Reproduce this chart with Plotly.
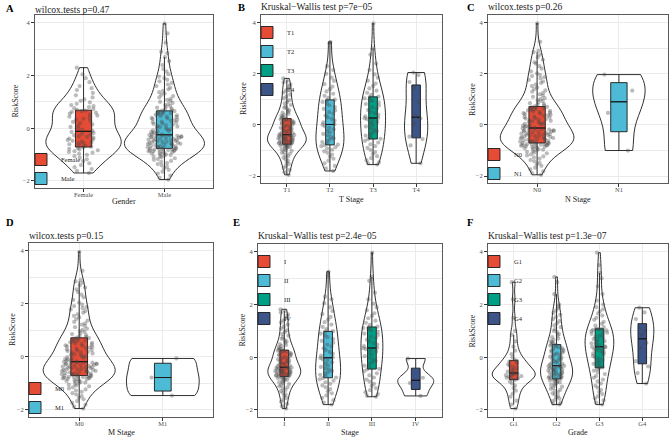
import numpy as np
import plotly.graph_objects as go

W, H = 670, 438
FONT = "Liberation Serif"
NPG = ["#E64B35", "#4DBBD5", "#00A087", "#3C5488"]

# ------------------------------------------------------------------ data
gender_categories = ["Female", "Male"]
gender_female = [
    -1.70, -1.62, -1.55, -1.48, -1.40, -1.33, -1.25, -1.18, -1.12, -1.06, -1.01, -0.97, -0.93, -0.90, -0.87, -0.84, -0.81, -0.78, -0.76, -0.73,
    -0.70, -0.67, -0.64, -0.61, -0.58, -0.56, -0.53, -0.50, -0.48, -0.45, -0.42, -0.39, -0.36, -0.33, -0.30, -0.27, -0.24, -0.21, -0.18, -0.14,
    -0.10, -0.05, 0.00, 0.05, 0.10, 0.15, 0.20, 0.24, 0.28, 0.32, 0.36, 0.40, 0.44, 0.48, 0.52, 0.56, 0.59, 0.62, 0.65, 0.67,
    0.70, 0.73, 0.76, 0.80, 0.84, 0.88, 0.93, 0.98, 1.04, 1.10, 1.17, 1.25, 1.34, 1.45, 1.52, 1.60, 1.75, 1.90, 2.05, 2.30,
]
gender_male = [
    -1.95, -1.88, -1.80, -1.72, -1.65, -1.58, -1.52, -1.46, -1.41, -1.36, -1.32, -1.28, -1.24, -1.20, -1.17, -1.14, -1.11, -1.08, -1.06, -1.04,
    -1.02, -1.00, -0.98, -0.96, -0.94, -0.92, -0.91, -0.90, -0.88, -0.87, -0.86, -0.85, -0.84, -0.83, -0.82, -0.81, -0.80, -0.79, -0.78, -0.77,
    -0.76, -0.75, -0.73, -0.72, -0.71, -0.69, -0.68, -0.67, -0.65, -0.64, -0.63, -0.61, -0.60, -0.59, -0.57, -0.56, -0.55, -0.53, -0.52, -0.51,
    -0.49, -0.48, -0.47, -0.45, -0.44, -0.43, -0.41, -0.40, -0.39, -0.37, -0.36, -0.35, -0.33, -0.32, -0.31, -0.30, -0.29, -0.28, -0.27, -0.26,
    -0.24, -0.22, -0.19, -0.17, -0.15, -0.12, -0.10, -0.08, -0.05, -0.03, 0.00, 0.02, 0.04, 0.07, 0.09, 0.11, 0.14, 0.16, 0.18, 0.21,
    0.23, 0.25, 0.28, 0.30, 0.32, 0.35, 0.37, 0.39, 0.42, 0.44, 0.46, 0.49, 0.51, 0.53, 0.55, 0.57, 0.59, 0.61, 0.63, 0.65,
    0.67, 0.69, 0.72, 0.75, 0.78, 0.81, 0.84, 0.88, 0.92, 0.96, 1.00, 1.04, 1.08, 1.12, 1.17, 1.22, 1.27, 1.32, 1.37, 1.42,
    1.48, 1.54, 1.60, 1.66, 1.72, 1.78, 1.84, 1.90, 1.96, 2.05, 2.15, 2.25, 2.40, 2.55, 2.70, 2.85, 2.90, 3.25, 3.60, 3.97,
]

t_stage_categories = ["T1", "T2", "T3", "T4"]
t_stage_t1 = [
    -1.95, -1.85, -1.76, -1.68, -1.60, -1.53, -1.46, -1.40, -1.34, -1.28, -1.23, -1.18, -1.13, -1.09, -1.05, -1.01, -0.98, -0.95, -0.92, -0.89, -0.87, -0.85, -0.83, -0.81, -0.79, -0.77, -0.76,
    -0.75, -0.74, -0.72, -0.71, -0.69, -0.68, -0.66, -0.65, -0.64, -0.62, -0.61, -0.59, -0.58, -0.56, -0.55, -0.53, -0.52, -0.50, -0.49, -0.48, -0.46, -0.45, -0.44, -0.42, -0.41, -0.40, -0.39,
    -0.37, -0.35, -0.32, -0.30, -0.28, -0.25, -0.23, -0.21, -0.18, -0.16, -0.13, -0.11, -0.09, -0.06, -0.04, -0.01, 0.02, 0.04, 0.07, 0.09, 0.12, 0.14, 0.16, 0.18, 0.20, 0.22, 0.24,
    0.26, 0.29, 0.32, 0.36, 0.40, 0.44, 0.48, 0.52, 0.57, 0.62, 0.67, 0.72, 0.78, 0.84, 0.90, 0.97, 1.04, 1.11, 1.19, 1.27, 1.35, 1.43, 1.51, 1.59, 1.67, 1.75, 1.82,
]
t_stage_t2 = [
    -1.80, -1.70, -1.60, -1.50, -1.40, -1.32, -1.24, -1.16, -1.09, -1.03, -0.97, -0.92, -0.87, -0.83, -0.79,
    -0.77, -0.72, -0.67, -0.62, -0.57, -0.52, -0.47, -0.41, -0.35, -0.29, -0.23, -0.17, -0.11, -0.05, 0.01,
    0.03, 0.10, 0.17, 0.24, 0.30, 0.37, 0.44, 0.50, 0.57, 0.63, 0.70, 0.77, 0.84, 0.90, 0.97,
    0.99, 1.06, 1.14, 1.22, 1.31, 1.40, 1.50, 1.60, 1.72, 1.85, 2.00, 2.15, 2.30, 3.20, 3.25,
]
t_stage_t3 = [
    -1.55, -1.50, -1.45, -1.38, -1.30, -1.22, -1.14, -1.06, -0.98, -0.90, -0.83, -0.76, -0.69, -0.62, -0.56,
    -0.54, -0.48, -0.42, -0.36, -0.30, -0.24, -0.18, -0.12, -0.06, 0.00, 0.06, 0.12, 0.17, 0.22, 0.26,
    0.28, 0.34, 0.40, 0.46, 0.52, 0.58, 0.64, 0.70, 0.76, 0.82, 0.88, 0.94, 0.99, 1.04, 1.09,
    1.11, 1.18, 1.26, 1.34, 1.43, 1.52, 1.62, 1.73, 1.85, 1.98, 2.15, 2.40, 2.75, 3.00, 3.97,
]
t_stage_t4 = [-1.50, -0.80, -0.55, -0.46, 0.05, 0.25, 0.35, 0.90, 1.45, 1.68, 1.95, 2.05]

n_stage_categories = ["N0", "N1"]
n_stage_n0 = [
    -1.95, -1.88, -1.81, -1.74, -1.67, -1.60, -1.54, -1.48, -1.42, -1.37, -1.32, -1.27, -1.23, -1.19, -1.15, -1.11, -1.08, -1.05, -1.02, -0.99,
    -0.97, -0.95, -0.93, -0.91, -0.89, -0.87, -0.85, -0.84, -0.83, -0.81, -0.80, -0.79, -0.78, -0.77, -0.76, -0.75, -0.74, -0.73, -0.72, -0.71,
    -0.70, -0.68, -0.67, -0.65, -0.64, -0.62, -0.61, -0.60, -0.58, -0.57, -0.55, -0.54, -0.52, -0.51, -0.49, -0.48, -0.47, -0.45, -0.44, -0.42,
    -0.41, -0.39, -0.38, -0.36, -0.35, -0.34, -0.32, -0.31, -0.29, -0.28, -0.26, -0.25, -0.23, -0.22, -0.21, -0.19, -0.18, -0.16, -0.15, -0.13,
    -0.11, -0.09, -0.07, -0.05, -0.03, -0.01, 0.02, 0.04, 0.06, 0.08, 0.10, 0.12, 0.14, 0.16, 0.19, 0.21, 0.23, 0.25, 0.27, 0.29,
    0.31, 0.33, 0.36, 0.38, 0.40, 0.42, 0.44, 0.46, 0.48, 0.50, 0.53, 0.55, 0.57, 0.59, 0.61, 0.63, 0.65, 0.67, 0.69, 0.71,
    0.73, 0.76, 0.79, 0.82, 0.85, 0.89, 0.93, 0.97, 1.01, 1.05, 1.10, 1.15, 1.20, 1.25, 1.30, 1.35, 1.40, 1.46, 1.52, 1.58,
    1.64, 1.70, 1.76, 1.82, 1.87, 1.91, 1.96, 2.02, 2.10, 2.20, 2.30, 2.40, 2.45, 2.55, 2.65, 2.75, 2.85, 2.90, 3.25, 3.97,
]
n_stage_n1 = [-1.00, 0.47, 1.34, 1.97]

m_stage_categories = ["M0", "M1"]
m_stage_m0 = [
    -1.95, -1.88, -1.81, -1.74, -1.67, -1.60, -1.54, -1.48, -1.42, -1.37, -1.32, -1.27, -1.23, -1.19, -1.15, -1.11, -1.08, -1.05, -1.02, -0.99,
    -0.97, -0.95, -0.93, -0.91, -0.89, -0.87, -0.85, -0.84, -0.83, -0.81, -0.80, -0.79, -0.78, -0.77, -0.76, -0.75, -0.74, -0.73, -0.72, -0.71,
    -0.70, -0.69, -0.67, -0.66, -0.65, -0.63, -0.62, -0.61, -0.59, -0.58, -0.57, -0.55, -0.54, -0.53, -0.51, -0.50, -0.49, -0.47, -0.46, -0.45,
    -0.43, -0.42, -0.41, -0.39, -0.38, -0.37, -0.35, -0.34, -0.33, -0.31, -0.30, -0.29, -0.27, -0.26, -0.25, -0.23, -0.22, -0.21, -0.20, -0.19,
    -0.17, -0.15, -0.13, -0.10, -0.08, -0.06, -0.03, -0.01, 0.01, 0.03, 0.06, 0.08, 0.10, 0.13, 0.15, 0.17, 0.19, 0.22, 0.24, 0.26,
    0.28, 0.31, 0.33, 0.35, 0.37, 0.40, 0.42, 0.44, 0.46, 0.49, 0.51, 0.53, 0.55, 0.58, 0.60, 0.62, 0.64, 0.67, 0.69, 0.71,
    0.73, 0.76, 0.79, 0.82, 0.86, 0.90, 0.94, 0.98, 1.02, 1.07, 1.12, 1.17, 1.22, 1.27, 1.32, 1.37, 1.43, 1.49, 1.55, 1.61,
    1.67, 1.73, 1.79, 1.84, 1.88, 1.92, 1.97, 2.05, 2.15, 2.25, 2.35, 2.45, 2.55, 2.62, 2.70, 2.80, 2.85, 2.90, 3.25, 3.97,
]
m_stage_m1 = [-1.46, -0.78, -0.06]

stage_categories = ["I", "II", "III", "IV"]
stage_i = [
    -1.95, -1.86, -1.77, -1.69, -1.61, -1.54, -1.47, -1.41, -1.35, -1.29, -1.24, -1.19, -1.14, -1.10, -1.06, -1.02, -0.98, -0.95, -0.92, -0.89, -0.86, -0.84, -0.82, -0.80, -0.78, -0.76, -0.74,
    -0.73, -0.72, -0.70, -0.69, -0.68, -0.66, -0.65, -0.64, -0.62, -0.61, -0.60, -0.58, -0.57, -0.56, -0.54, -0.53, -0.52, -0.50, -0.49, -0.48, -0.46, -0.45, -0.44, -0.42, -0.41, -0.40, -0.39,
    -0.37, -0.34, -0.32, -0.29, -0.27, -0.24, -0.22, -0.19, -0.17, -0.14, -0.12, -0.09, -0.07, -0.04, -0.02, 0.01, 0.04, 0.06, 0.09, 0.11, 0.14, 0.16, 0.18, 0.21, 0.23, 0.25, 0.26,
    0.28, 0.31, 0.34, 0.38, 0.42, 0.46, 0.50, 0.55, 0.60, 0.65, 0.70, 0.76, 0.82, 0.88, 0.95, 1.02, 1.09, 1.16, 1.24, 1.32, 1.40, 1.48, 1.56, 1.63, 1.70, 1.76, 1.82,
]
stage_ii = [
    -1.80, -1.72, -1.63, -1.54, -1.45, -1.37, -1.29, -1.21, -1.14, -1.07, -1.01, -0.95, -0.89, -0.84, -0.79,
    -0.77, -0.72, -0.67, -0.62, -0.57, -0.52, -0.47, -0.42, -0.37, -0.31, -0.25, -0.19, -0.13, -0.08, -0.03,
    -0.01, 0.06, 0.13, 0.20, 0.27, 0.34, 0.41, 0.48, 0.55, 0.62, 0.69, 0.76, 0.83, 0.90, 0.97,
    0.99, 1.07, 1.15, 1.24, 1.33, 1.43, 1.53, 1.64, 1.76, 1.90, 2.05, 2.20, 2.30, 3.10, 3.25,
]
stage_iii = [
    -1.50, -1.46, -1.40, -1.33, -1.25, -1.17, -1.09, -1.01, -0.93, -0.85, -0.77, -0.69, -0.61, -0.53, -0.46,
    -0.44, -0.38, -0.32, -0.26, -0.20, -0.14, -0.08, -0.02, 0.04, 0.10, 0.16, 0.22, 0.27, 0.31, 0.34,
    0.36, 0.42, 0.48, 0.54, 0.60, 0.66, 0.72, 0.78, 0.84, 0.90, 0.96, 1.02, 1.07, 1.11, 1.14,
    1.16, 1.23, 1.31, 1.39, 1.48, 1.57, 1.67, 1.78, 1.90, 2.03, 2.20, 2.45, 2.90, 3.05, 3.97,
]
stage_iv = [-1.47, -0.98, -0.78, -0.05]

grade_categories = ["G1", "G2", "G3", "G4"]
grade_g1 = [
    -1.95, -1.80, -1.65, -1.50, -1.38, -1.27, -1.17, -1.08, -1.00, -0.93, -0.86,
    -0.84, -0.81, -0.78, -0.75, -0.72, -0.70, -0.68, -0.66, -0.64, -0.62, -0.61,
    -0.59, -0.55, -0.51, -0.47, -0.42, -0.37, -0.32, -0.27, -0.22, -0.17, -0.13,
    -0.11, 0.00, 0.12, 0.25, 0.40, 0.60, 0.85, 1.00, 1.50, 2.20, 2.85,
]
grade_g2 = [
    -1.80, -1.76, -1.72, -1.67, -1.62, -1.57, -1.52, -1.47, -1.42, -1.37, -1.32, -1.28, -1.24, -1.20, -1.16, -1.12, -1.08, -1.05, -1.02, -0.99, -0.96, -0.93, -0.91, -0.89, -0.87, -0.85, -0.83,
    -0.82, -0.80, -0.78, -0.76, -0.74, -0.72, -0.70, -0.68, -0.66, -0.64, -0.62, -0.60, -0.58, -0.56, -0.54, -0.52, -0.50, -0.48, -0.46, -0.44, -0.42, -0.40, -0.38, -0.37, -0.35, -0.34, -0.33,
    -0.31, -0.28, -0.25, -0.22, -0.19, -0.16, -0.13, -0.10, -0.07, -0.04, -0.01, 0.02, 0.05, 0.08, 0.11, 0.14, 0.17, 0.20, 0.23, 0.26, 0.29, 0.32, 0.35, 0.38, 0.41, 0.44, 0.47,
    0.49, 0.53, 0.57, 0.61, 0.66, 0.71, 0.76, 0.82, 0.88, 0.94, 1.00, 1.07, 1.14, 1.21, 1.29, 1.37, 1.45, 1.53, 1.61, 1.69, 1.77, 1.85, 1.92, 2.00, 2.40, 2.85, 3.05,
]
grade_g3 = [
    -1.80, -1.72, -1.64, -1.56, -1.48, -1.40, -1.32, -1.24, -1.16, -1.08, -1.00, -0.92, -0.85, -0.78, -0.71, -0.64, -0.57, -0.51, -0.46, -0.41,
    -0.39, -0.35, -0.30, -0.25, -0.20, -0.15, -0.10, -0.05, 0.00, 0.05, 0.10, 0.15, 0.19, 0.23, 0.27, 0.30, 0.33, 0.36, 0.38, 0.39,
    0.41, 0.45, 0.49, 0.53, 0.57, 0.61, 0.65, 0.69, 0.73, 0.77, 0.81, 0.85, 0.89, 0.93, 0.96, 0.99, 1.02, 1.04, 1.06, 1.07,
    1.09, 1.14, 1.20, 1.27, 1.34, 1.42, 1.50, 1.58, 1.66, 1.74, 1.82, 1.90, 2.00, 2.15, 2.40, 2.70, 3.00, 3.20, 3.50, 3.97,
]
grade_g4 = [-1.00, -0.60, -0.35, -0.15, 0.35, 0.55, 0.85, 1.00, 1.10, 1.45, 1.70, 1.88]

y_tick_values = [-2, 0, 2, 4]

# ------------------------------------------------------------------ panels (layout in px)
panels = [
    dict(letter="A", title="wilcox.tests p=0.47", xlabel="Gender", cats=gender_categories,
         values=[gender_female, gender_male], vwidths=[0.93, 0.99],
         frame=(35, 213, 15, 188), title_y=10, letter_xy=(4, 8), xtitle_y=202, ytitle_x=15,
         legend="bottom"),
    dict(letter="B", title="Kruskal−Wallis test p=7e−05", xlabel="T Stage", cats=t_stage_categories,
         values=[t_stage_t1, t_stage_t2, t_stage_t3, t_stage_t4], vwidths=[0.9, 0.65, 0.58, 0.54],
         frame=(261, 442, 15, 183), title_y=7, letter_xy=(236, 7), xtitle_y=199, ytitle_x=243,
         legend="top"),
    dict(letter="C", title="wilcox.tests p=0.26", xlabel="N Stage", cats=n_stage_categories,
         values=[n_stage_n0, n_stage_n1], vwidths=[0.9, 0.64],
         frame=(488, 668, 15, 183), title_y=7, letter_xy=(465, 7), xtitle_y=199, ytitle_x=472,
         legend="bottom"),
    dict(letter="D", title="wilcox.tests p=0.15", xlabel="M Stage", cats=m_stage_categories,
         values=[m_stage_m0, m_stage_m1], vwidths=[0.86, 0.87],
         frame=(29, 213, 243, 417), title_y=236, letter_xy=(4, 222), xtitle_y=432, ytitle_x=12,
         legend="bottom"),
    dict(letter="E", title="Kruskal−Wallis test p=2.4e−05", xlabel="Stage", cats=stage_categories,
         values=[stage_i, stage_ii, stage_iii, stage_iv], vwidths=[0.75, 0.57, 0.5, 0.82],
         frame=(258, 442, 244, 417), title_y=236, letter_xy=(231, 222), xtitle_y=432, ytitle_x=242,
         legend="top"),
    dict(letter="F", title="Kruskal−Wallis test p=1.3e−07", xlabel="Grade", cats=grade_categories,
         values=[grade_g1, grade_g2, grade_g3, grade_g4], vwidths=[1.0, 0.75, 0.67, 0.54],
         frame=(488, 668, 244, 417), title_y=236, letter_xy=(465, 222), xtitle_y=432, ytitle_x=472,
         legend="top"),
]


def px_x(v):
    return v / W


def px_y(v):
    return 1 - v / H


def nrd0(vals):
    a = np.asarray(vals, float)
    q1, q3 = np.percentile(a, [25, 75])
    s = min(a.std(ddof=1), (q3 - q1) / 1.34)
    return 0.9 * s * len(a) ** -0.2


fig = go.Figure()
layout = dict(
    width=W, height=H, margin=dict(l=0, r=0, t=0, b=0, autoexpand=False),
    paper_bgcolor="white", plot_bgcolor="white",
    font=dict(family=FONT, color="#1a1a1a"),
    boxmode="overlay", violinmode="overlay", showlegend=True,
    annotations=[],
)

AX_LINE = "#5a5a5a"
GRID = "#ebebeb"
TXT = "#1a1a1a"

for k, p in enumerate(panels, start=1):
    xa = "x" if k == 1 else f"x{k}"
    ya = "y" if k == 1 else f"y{k}"
    lg = "legend" if k == 1 else f"legend{k}"
    x0, x1, y0, y1 = p["frame"]
    ncat = len(p["cats"])

    # violin outlines
    for i, (cat, vals) in enumerate(zip(p["cats"], p["values"])):
        fig.add_trace(go.Violin(
            x=[cat] * len(vals), y=vals, xaxis=xa, yaxis=ya, name=cat, showlegend=False,
            points=False, spanmode="hard", scalemode="width", scalegroup=f"p{k}g{i}",
            width=p["vwidths"][i], bandwidth=nrd0(vals),
            line=dict(color=TXT, width=0.9), fillcolor="rgba(0,0,0,0)",
            box=dict(visible=False), meanline=dict(visible=False), hoverinfo="skip",
        ))
    # coloured boxplots (1.5 IQR whiskers)
    for i, (cat, vals) in enumerate(zip(p["cats"], p["values"])):
        fig.add_trace(go.Box(
            x=[cat] * len(vals), y=vals, xaxis=xa, yaxis=ya, name=cat, legend=lg, showlegend=True,
            boxpoints="outliers", marker=dict(opacity=0, size=1),
            quartilemethod="linear", width=0.2, whiskerwidth=0,
            fillcolor=NPG[i], line=dict(color=TXT, width=0.9), hoverinfo="skip",
        ))
    # thicker median bar (flat box at the median of each group)
    for i, (cat, vals) in enumerate(zip(p["cats"], p["values"])):
        med = float(np.median(vals))
        fig.add_trace(go.Box(
            x=[cat], q1=[med], median=[med], q3=[med], lowerfence=[med], upperfence=[med],
            xaxis=xa, yaxis=ya, name=cat, showlegend=False, width=0.2, whiskerwidth=0,
            fillcolor="rgba(0,0,0,0)", line=dict(color=TXT, width=1.1), hoverinfo="skip",
        ))
    # jittered sample points
    for i, (cat, vals) in enumerate(zip(p["cats"], p["values"])):
        fig.add_trace(go.Box(
            x=[cat] * len(vals), y=vals, xaxis=xa, yaxis=ya, name=cat, showlegend=False,
            boxpoints="all", jitter=1.0, pointpos=0, width=0.42,
            fillcolor="rgba(0,0,0,0)", line=dict(color="rgba(0,0,0,0)", width=0),
            marker=dict(color="rgba(70,70,70,0.36)", size=4.2, line=dict(width=0)),
            hoverinfo="skip",
        ))

    axis_common = dict(
        showline=True, mirror=True, linecolor=AX_LINE, linewidth=0.9,
        ticks="outside", ticklen=3, tickwidth=0.8, tickcolor="#333333",
        tickfont=dict(family=FONT, size=6.5, color="#4d4d4d"),
        showgrid=True, gridcolor=GRID, gridwidth=0.8, zeroline=False,
        automargin=False,
    )
    layout["xaxis" if k == 1 else f"xaxis{k}"] = dict(
        axis_common, domain=[px_x(x0), px_x(x1)], anchor=ya,
        type="category", categoryorder="array", categoryarray=p["cats"],
        range=[-0.6, ncat - 0.4], ticklabelstandoff=-3,
    )
    layout["yaxis" if k == 1 else f"yaxis{k}"] = dict(
        axis_common, domain=[px_y(y1), px_y(y0)], anchor=xa,
        range=[-2.27, 4.3], tickvals=y_tick_values,
        minor=dict(dtick=1, tick0=0, showgrid=True, gridcolor=GRID, gridwidth=0.5, ticks=""),
    )

    # legend inside panel
    if p["legend"] == "bottom":
        leg = dict(x=px_x(x0 - 14), y=px_y(y1 + 5), xanchor="left", yanchor="bottom")
    else:
        leg = dict(x=px_x(x0 - 14), y=px_y(y0 + 3), xanchor="left", yanchor="top")
    layout[lg] = dict(leg, bgcolor="rgba(0,0,0,0)", borderwidth=0, itemwidth=30,
                      font=dict(family=FONT, size=6.5, color=TXT),
                      traceorder="normal", tracegroupgap=0)

    # axis titles
    layout["annotations"].append(dict(
        text=p["xlabel"], x=px_x((x0 + x1) / 2), y=px_y(p["xtitle_y"]), xref="paper", yref="paper",
        xanchor="center", yanchor="middle", showarrow=False,
        font=dict(family=FONT, size=8, color=TXT),
    ))
    layout["annotations"].append(dict(
        text="RiskScore", x=px_x(p["ytitle_x"]), y=px_y((y0 + y1) / 2), xref="paper", yref="paper",
        xanchor="center", yanchor="middle", textangle=-90, showarrow=False,
        font=dict(family=FONT, size=8, color=TXT),
    ))
    # panel title and letter
    layout["annotations"].append(dict(
        text=p["title"], x=px_x(x0 - 2), y=px_y(p["title_y"]), xref="paper", yref="paper",
        xanchor="left", yanchor="middle", showarrow=False,
        font=dict(family=FONT, size=9.5, color=TXT),
    ))
    lx, ly = p["letter_xy"]
    layout["annotations"].append(dict(
        text=f"<b>{p['letter']}</b>", x=px_x(lx), y=px_y(ly), xref="paper", yref="paper",
        xanchor="left", yanchor="middle", showarrow=False,
        font=dict(family=FONT, size=10.5, color="#000000"),
    ))

fig.update_layout(**layout)
fig.write_html(
    "out.html",
    config={"displayModeBar": False},
    post_script="document.body.style.margin='0';document.body.style.padding='0';",
)
